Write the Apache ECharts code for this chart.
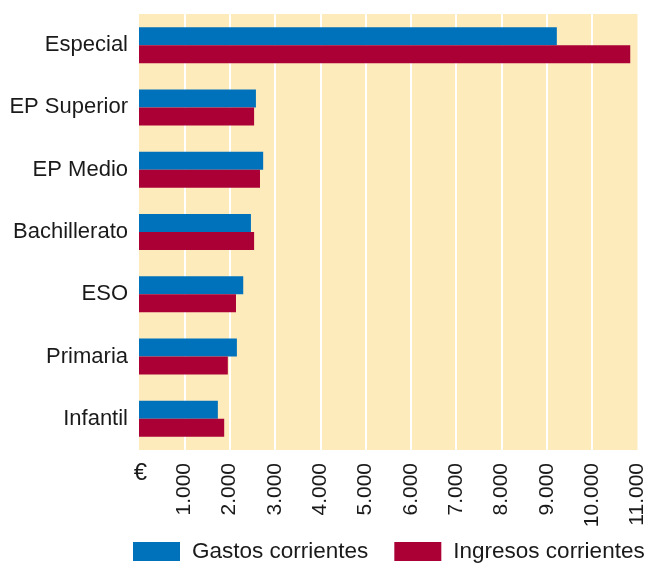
<!DOCTYPE html>
<html><head><meta charset="utf-8">
<script src="https://cdn.jsdelivr.net/npm/echarts@6/dist/echarts.min.js"></script>
<style>html,body{margin:0;padding:0;background:#fff}#c{width:648px;height:564px}</style>
</head><body><div id="c"></div>
<script>
const categories = ['Infantil','Primaria','ESO','Bachillerato','EP Medio','EP Superior','Especial'];
const gastos = [1740, 2160, 2300, 2470, 2740, 2580, 9220];
const ingresos = [1880, 1960, 2140, 2540, 2670, 2540, 10840];
const seriesNames = ['Gastos corrientes','Ingresos corrientes'];
const xTicks = {min:0, max:11000, interval:1000};
const font = 'Liberation Sans, Arial, sans-serif';
const chart = echarts.init(document.getElementById('c'), null, {renderer:'canvas'});
chart.setOption({
  animation:false,
  textStyle:{fontFamily:font},
  grid:{left:139,right:10,top:14,bottom:114,show:true,backgroundColor:'#fdebbc',borderWidth:0,containLabel:false},
  legend:{
    data:seriesNames,left:133,bottom:1,padding:0,itemWidth:47,itemHeight:19,itemGap:26,
    icon:'rect',
    textStyle:{fontSize:22.5,color:'#1a1a1a',fontFamily:font,padding:[0,0,0,7]}
  },
  xAxis:{
    type:'value',min:xTicks.min,max:xTicks.max,interval:xTicks.interval,
    name:'€',nameLocation:'start',nameGap:-8,
    nameTextStyle:{fontSize:24,color:'#1a1a1a',fontFamily:font,verticalAlign:'top',padding:[11,0,0,0]},
    axisLine:{show:false},axisTick:{show:false},
    splitLine:{show:true,showMinLine:false,showMaxLine:false,lineStyle:{color:'#ffffff',width:2}},
    axisLabel:{rotate:90,fontSize:21,color:'#1a1a1a',fontFamily:font,margin:13,
      formatter:v=> v===0 ? '' : v.toLocaleString('de-DE')}
  },
  yAxis:{
    type:'category',data:categories,
    axisLine:{show:false},axisTick:{show:false},splitLine:{show:false},
    axisLabel:{fontSize:22,color:'#1a1a1a',fontFamily:font,margin:11}
  },
  series:[
    {name:seriesNames[0],type:'bar',data:gastos,barWidth:18,barGap:'0%',itemStyle:{color:'#0072bb'}},
    {name:seriesNames[1],type:'bar',data:ingresos,barWidth:18,barGap:'0%',itemStyle:{color:'#aa0036'}}
  ]
});
</script></body></html>
